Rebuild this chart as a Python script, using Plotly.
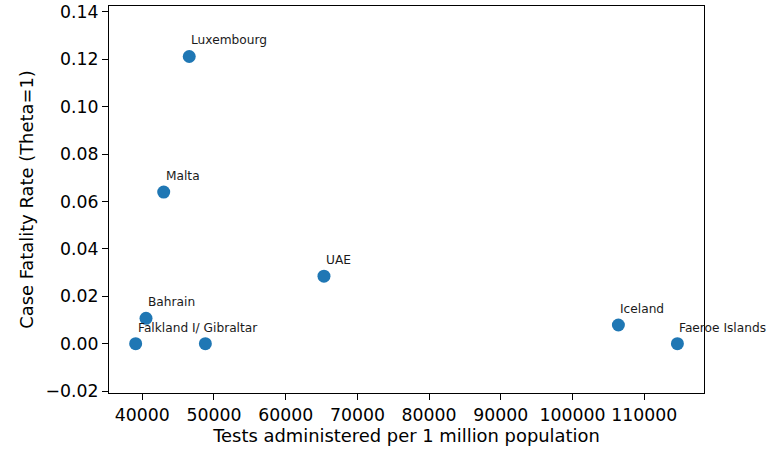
import plotly.graph_objects as go

countries = ["Luxembourg", "Malta", "Bahrain", "Falkland I/ Gibraltar", "", "UAE", "Iceland", "Faeroe Islands"]
tests_per_million = [46550, 42990, 40520, 39080, 48800, 65340, 106400, 114630]
case_fatality_rate = [0.1212, 0.0640, 0.0107, 0.0, 0.0, 0.0285, 0.0079, 0.0]

x_tick_vals = [40000, 50000, 60000, 70000, 80000, 90000, 100000, 110000]
y_tick_vals = [-0.02, 0.0, 0.02, 0.04, 0.06, 0.08, 0.10, 0.12, 0.14]

FONT = "DejaVu Sans"

fig = go.Figure()
fig.add_trace(go.Scatter(
    x=tests_per_million, y=case_fatality_rate, mode="markers",
    marker=dict(color="#1f77b4", size=13, line=dict(width=0)),
    hoverinfo="skip", showlegend=False,
))

for name, xv, yv in zip(countries, tests_per_million, case_fatality_rate):
    if not name:
        continue
    fig.add_annotation(
        x=xv, y=yv, text=name, showarrow=False,
        xanchor="left", yanchor="middle", xshift=0, yshift=16,
        font=dict(family=FONT, size=12.2, color="#1a1a1a"),
    )

axis_common = dict(
    showline=True, linecolor="black", linewidth=1.2, mirror=True,
    ticks="outside", ticklen=6, tickwidth=1.2, tickcolor="black",
    showgrid=False, zeroline=False, automargin=False,
    tickfont=dict(family=FONT, size=17.3, color="black"),
)

fig.update_xaxes(
    range=[35360, 118340], tickvals=x_tick_vals, tickformat="d",
    title=dict(text="Tests administered per 1 million population",
               font=dict(family=FONT, size=17.9, color="black"), standoff=5),
    **axis_common,
)
fig.update_yaxes(
    range=[-0.0208, 0.1425], tickvals=y_tick_vals, tickformat=".2f",
    title=dict(text="Case Fatality Rate (Theta=1)",
               font=dict(family=FONT, size=17.9, color="black"), standoff=7),
    **axis_common,
)

fig.update_layout(
    width=768, height=449,
    margin=dict(l=109, r=64, t=6, b=56),
    plot_bgcolor="white", paper_bgcolor="white",
    font=dict(family=FONT),
)

fig.write_html("out.html", config={"displayModeBar": False},
               post_script="document.body.style.margin='0';")
